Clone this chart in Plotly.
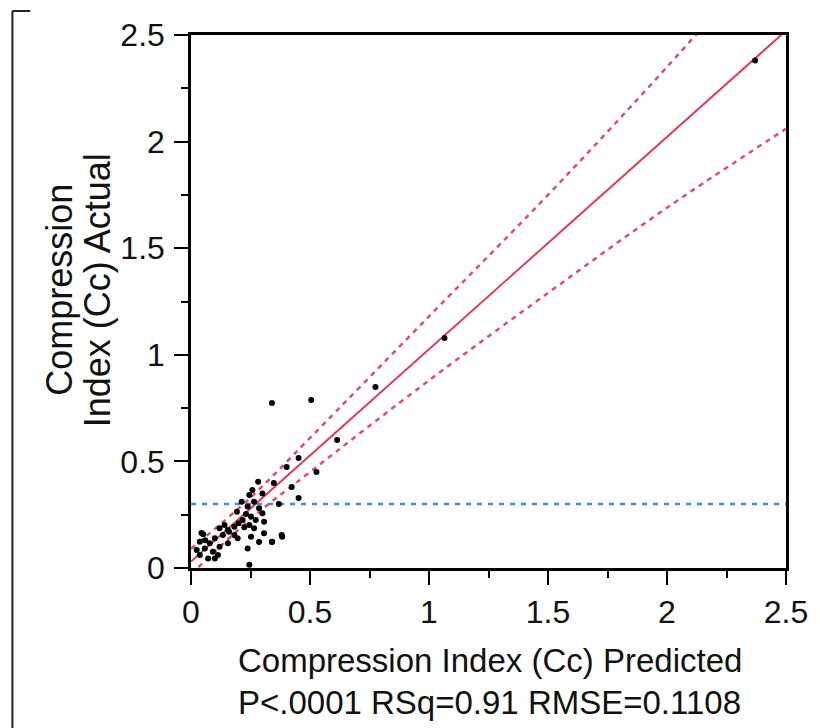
import plotly.graph_objects as go

# Observed points (predicted, actual)
pred = [2.37, 1.065, 0.775, 0.34, 0.505, 0.614, 0.527, 0.452, 0.402, 0.423, 0.452, 0.369,
        0.348, 0.381, 0.34, 0.286, 0.282, 0.30,
        0.258, 0.245, 0.213, 0.265, 0.238, 0.286, 0.193, 0.231, 0.30, 0.252, 0.217, 0.272,
        0.307, 0.141, 0.245, 0.182, 0.224, 0.120, 0.155, 0.265, 0.307, 0.051, 0.134, 0.182,
        0.252, 0.10, 0.196, 0.037, 0.341, 0.383, 0.079, 0.155, 0.12, 0.058, 0.238, 0.024,
        0.092, 0.113, 0.037, 0.245, 0.072, 0.10, 0.044, 0.20, 0.16, 0.06]
actual = [2.38, 1.079, 0.849, 0.774, 0.788, 0.60, 0.45, 0.516, 0.474, 0.38, 0.328, 0.30,
          0.399, 0.155, 0.122, 0.122, 0.405, 0.35,
          0.366, 0.342, 0.311, 0.311, 0.288, 0.28, 0.264, 0.253, 0.257, 0.241, 0.225, 0.225,
          0.217, 0.202, 0.202, 0.194, 0.191, 0.186, 0.178, 0.186, 0.163, 0.158, 0.155, 0.155,
          0.147, 0.139, 0.139, 0.123, 0.123, 0.147, 0.116, 0.116, 0.10, 0.092, 0.092, 0.084,
          0.076, 0.061, 0.061, 0.015, 0.045, 0.045, 0.164, 0.21, 0.17, 0.13]

# Fit line and confidence curves
fit_x = [0.0, 2.5]
fit_y = [0.03, 2.52]
band_x = [0.0, 0.25, 0.5, 1.0, 1.5, 2.0, 2.5]
band_upper = [0.09, 0.33, 0.61, 1.18, 1.75, 2.35, 2.98]
band_lower = [-0.03, 0.23, 0.45, 0.88, 1.29, 1.69, 2.06]
ref_x = [0.0, 2.5]
ref_y = [0.3, 0.3]

tick_vals = [0, 0.5, 1, 1.5, 2, 2.5]
tick_text = ["0", "0.5", "1", "1.5", "2", "2.5"]

FONT = "Liberation Sans, Arial, sans-serif"
band_color = "#d9506c"

fig = go.Figure()
fig.add_trace(go.Scatter(x=ref_x, y=ref_y, mode="lines",
                         line=dict(color="#3f8fd4", width=2.5, dash="5px,6px"),
                         hoverinfo="skip"))
fig.add_trace(go.Scatter(x=band_x, y=band_upper, mode="lines", line_shape="spline",
                         line=dict(color=band_color, width=2.5, dash="5px,5px"),
                         hoverinfo="skip"))
fig.add_trace(go.Scatter(x=band_x, y=band_lower, mode="lines", line_shape="spline",
                         line=dict(color=band_color, width=2.5, dash="5px,5px"),
                         hoverinfo="skip"))
fig.add_trace(go.Scatter(x=fit_x, y=fit_y, mode="lines",
                         line=dict(color="#e23a55", width=2), hoverinfo="skip"))
fig.add_trace(go.Scatter(x=pred, y=actual, mode="markers",
                         marker=dict(color="black", size=6), cliponaxis=False))

axis_common = dict(
    range=[0, 2.5], tickvals=tick_vals, ticktext=tick_text,
    showgrid=False, zeroline=False, showline=True, linecolor="black", linewidth=2.5,
    mirror=True, ticks="outside", ticklen=14, tickwidth=1.5, tickcolor="black",
    tickfont=dict(family=FONT, size=32, color="#111"),
    minor=dict(dtick=0.25, ticks="outside", ticklen=7, tickwidth=1.5, tickcolor="black",
               showgrid=False),
)

fig.update_layout(
    width=820, height=728,
    margin=dict(l=191, r=26, t=35, b=160),
    paper_bgcolor="white", plot_bgcolor="white",
    showlegend=False,
    xaxis=dict(**axis_common, ticklabelstandoff=0),
    yaxis=dict(**axis_common, ticklabelstandoff=3),
)

# Axis titles as annotations
fig.add_annotation(text="Compression Index (Cc) Predicted", xref="paper", yref="paper",
                   x=0.502, y=(568 - 660) / 533, xanchor="center", yanchor="middle",
                   showarrow=False, font=dict(family=FONT, size=33, color="#111"))
fig.add_annotation(text="P<.0001 RSq=0.91 RMSE=0.1108", xref="paper", yref="paper",
                   x=0.502, y=(568 - 702) / 533, xanchor="center", yanchor="middle",
                   showarrow=False, font=dict(family=FONT, size=33, color="#111"))
fig.add_annotation(text="Compression", xref="paper", yref="paper", textangle=-90,
                   x=(57 - 191) / 603, y=(568 - 290) / 533, xanchor="center", yanchor="middle",
                   showarrow=False, font=dict(family=FONT, size=36, color="#111"))
fig.add_annotation(text="Index (Cc) Actual", xref="paper", yref="paper", textangle=-90,
                   x=(96 - 191) / 603, y=(568 - 290) / 533, xanchor="center", yanchor="middle",
                   showarrow=False, font=dict(family=FONT, size=36, color="#111"))

# Left bracket frame
fig.add_shape(type="line", xref="paper", yref="paper",
              x0=(10 - 191) / 603, x1=(10 - 191) / 603,
              y0=(568 - 11) / 533, y1=(568 - 728) / 533,
              line=dict(color="#222", width=2))
fig.add_shape(type="line", xref="paper", yref="paper",
              x0=(10 - 191) / 603, x1=(28 - 191) / 603,
              y0=(568 - 11) / 533, y1=(568 - 11) / 533,
              line=dict(color="#222", width=2))

fig.write_html("out.html")
